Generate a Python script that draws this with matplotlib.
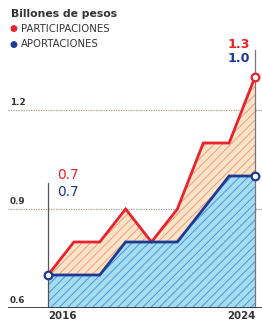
import matplotlib
matplotlib.use("Agg")
import matplotlib.pyplot as plt
import numpy as np

years = [2016, 2017, 2018, 2019, 2020, 2021, 2022, 2023, 2024]
participaciones = [0.7, 0.8, 0.8, 0.9, 0.8, 0.9, 1.1, 1.1, 1.3]
aportaciones = [0.7, 0.7, 0.7, 0.8, 0.8, 0.8, 0.9, 1.0, 1.0]
yticks = [0.6, 0.9, 1.2]
ytick_labels = ["0.6", "0.9", "1.2"]
title = "Billones de pesos"
series_names = ["PARTICIPACIONES", "APORTACIONES"]

RED = "#e8232b"
BLUE = "#1c3a94"
RED_FILL = "#fbe4c6"
RED_HATCH = "#ec9c86"
BLUE_FILL = "#a6dcf1"
BLUE_HATCH = "#4a93d6"
TXT = "#333333"

plt.rcParams["font.family"] = ["DejaVu Sans"]
plt.rcParams["hatch.linewidth"] = 0.7

W, H = 262, 325
fig = plt.figure(figsize=(W / 100, H / 100), dpi=100)
fig.patch.set_facecolor("white")

ax_l, ax_r, ax_b, ax_t = 8, 262, 308, 40
ax = fig.add_axes([ax_l / W, (H - ax_b) / H, (ax_r - ax_l) / W, (ax_b - ax_t) / H])
px_per_year = (255 - 48) / 8
px_per_unit = (308 - 209) / 0.3
ax.set_xlim(2016 - (48 - ax_l) / px_per_year, 2024 + (ax_r - 255) / px_per_year)
ax.set_ylim(0.6, 0.6 + (ax_b - ax_t) / px_per_unit)
ax.axis("off")

x = np.array(years)
red = np.array(participaciones)
blue = np.array(aportaciones)

for v in yticks[1:]:
    ax.axhline(v, color="#a89f8c", lw=0.9, ls=(0, (1, 1)), zorder=1)
ax.axhline(yticks[0], color="#333333", lw=1.3, zorder=6)

ax.fill_between(x, blue, red, facecolor=RED_FILL, edgecolor=RED_HATCH,
                hatch="////", linewidth=0, zorder=2)
ax.fill_between(x, 0.6, blue, facecolor=BLUE_FILL, edgecolor=BLUE_HATCH,
                hatch="////", linewidth=0, zorder=2)

ax.plot([2016, 2016], [0.6, 0.6 + (308 - 183) / px_per_unit], color="#555555", lw=0.9, zorder=3)
ax.plot([2024, 2024], [0.6, 0.6 + (308 - 50) / px_per_unit], color="#777777", lw=0.9, zorder=3)

ax.plot(x, red, color=RED, lw=2.0, zorder=4, solid_joinstyle="miter")
ax.plot(x, blue, color=BLUE, lw=2.0, zorder=5, solid_joinstyle="miter")

ax.plot([x[-1]], [red[-1]], marker="o", ms=5.5, mfc="white", mec=RED, mew=1.6, zorder=7, ls="none")
ax.plot([x[-1]], [blue[-1]], marker="o", ms=5.5, mfc="white", mec=BLUE, mew=1.6, zorder=7, ls="none")
ax.plot([x[0]], [blue[0]], marker="o", ms=5.5, mfc="white", mec=BLUE, mew=1.6, zorder=7, ls="none")

for v, lab in zip(yticks, ytick_labels):
    ax.text(2016 - (48 - 10) / px_per_year, v + 3 / px_per_unit, lab, ha="left", va="bottom",
            fontsize=6.3, color=TXT, fontweight="bold", zorder=8)

ax.text(2016, 0.6 - 8 / px_per_unit, str(years[0]), ha="left", va="center",
        fontsize=7.4, color=TXT, fontweight="bold", clip_on=False)
ax.text(2024, 0.6 - 8 / px_per_unit, str(years[-1]), ha="right", va="center",
        fontsize=7.4, color=TXT, fontweight="bold", clip_on=False)

ax.text(2016 + 9 / px_per_year, red[0] + (275 - 175) / px_per_unit, f"{red[0]:.1f}",
        ha="left", va="center", fontsize=9.8, color=RED, clip_on=False)
ax.text(2016 + 9 / px_per_year, blue[0] + (275 - 192) / px_per_unit, f"{blue[0]:.1f}",
        ha="left", va="center", fontsize=9.8, color=BLUE, clip_on=False)
ax.text(2024 - 5 / px_per_year, red[-1] + (76 - 43) / px_per_unit, f"{red[-1]:.1f}",
        ha="right", va="center", fontsize=9.2, color=RED, fontweight="bold", clip_on=False)
ax.text(2024 - 5 / px_per_year, blue[-1] + (175 - 57) / px_per_unit, f"{blue[-1]:.1f}",
        ha="right", va="center", fontsize=9.2, color=BLUE, fontweight="bold", clip_on=False)

fig.text(11 / W, 1 - 14 / H, title, ha="left", va="center", fontsize=7.8,
         color=TXT, fontweight="bold")
for i, (name, c) in enumerate(zip(series_names, [RED, BLUE])):
    yy = 1 - (29 + 15 * i) / H
    fig.text(9 / W, yy, "●", ha="left", va="center", fontsize=6.5, color=c)
    fig.text(21 / W, yy, name, ha="left", va="center", fontsize=7.3, color=TXT)

fig.savefig("out.png", dpi=100, facecolor="white")
